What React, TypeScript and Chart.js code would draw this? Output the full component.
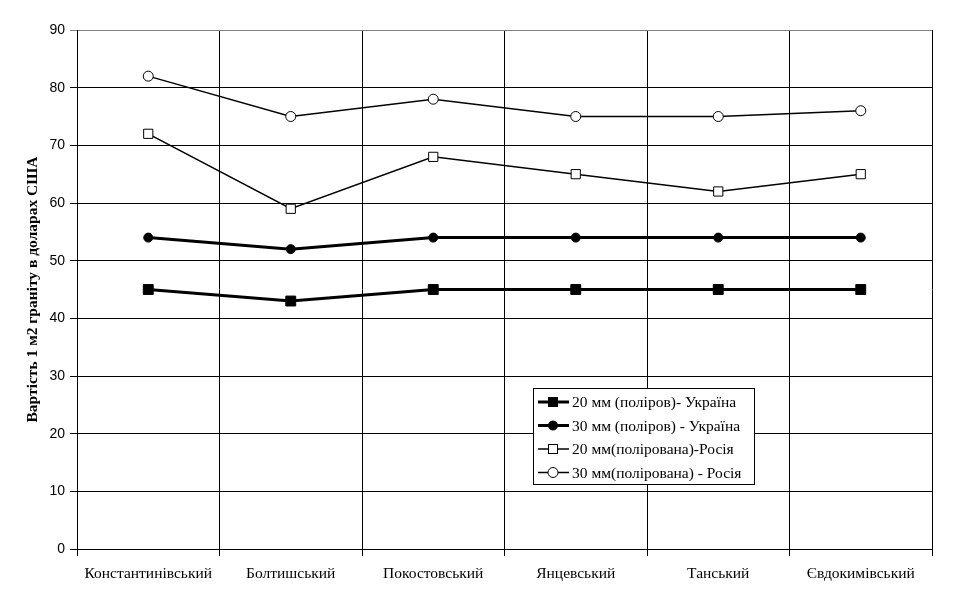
import React, { useEffect, useRef } from "react";
import { Chart, registerables } from "chart.js";

Chart.register(...registerables);

const categories = ["Константинівський", "Болтишський", "Покостовський", "Янцевський", "Танський", "Євдокимівський"];
const ukr20 = [45, 43, 45, 45, 45, 45];
const ukr30 = [54, 52, 54, 54, 54, 54];
const rus20 = [72, 59, 68, 65, 62, 65];
const rus30 = [82, 75, 78, 75, 75, 76];
const seriesNames = [
  "20 мм (поліров)- Україна",
  "30 мм (поліров) - Україна",
  "20 мм(полірована)-Росія",
  "30 мм(полірована) - Росія",
];
const yTitle = "Вартість 1 м2 граніту в доларах США";

const serif = "'Liberation Serif', 'Times New Roman', serif";
const sans = "'Liberation Sans', Arial, sans-serif";

const legendPlugin = {
  id: "boxLegend",
  afterDraw(chart: any) {
    const ctx = chart.ctx;
    const x0 = 533, y0 = 388, w = 221, h = 96;
    ctx.save();
    ctx.fillStyle = "#fff";
    ctx.fillRect(x0, y0, w, h);
    ctx.strokeStyle = "#000";
    ctx.lineWidth = 1;
    ctx.strokeRect(x0 + 0.5, y0 + 0.5, w, h);
    ctx.font = "15.5px " + serif;
    ctx.textBaseline = "middle";
    ctx.textAlign = "left";
    chart.data.datasets.forEach((ds: any, i: number) => {
      const y = y0 + 14 + i * 23.5;
      ctx.strokeStyle = "#000";
      ctx.lineWidth = ds.borderWidth;
      ctx.beginPath();
      ctx.moveTo(x0 + 5, y);
      ctx.lineTo(x0 + 36, y);
      ctx.stroke();
      ctx.lineWidth = 1;
      ctx.fillStyle = ds.pointBackgroundColor;
      ctx.strokeStyle = "#000";
      const cx = x0 + 20;
      if (ds.pointStyle === "rect") {
        const s = ds.legendSize;
        ctx.fillRect(cx - s / 2, y - s / 2, s, s);
        ctx.strokeRect(cx - s / 2 + 0.5, y - s / 2 + 0.5, s - 1, s - 1);
      } else {
        ctx.beginPath();
        ctx.arc(cx, y, ds.pointRadius, 0, Math.PI * 2);
        ctx.fill();
        ctx.stroke();
      }
      ctx.fillStyle = "#000";
      ctx.fillText(ds.label, x0 + 39, y + 1);
    });
    ctx.restore();
  },
};

export default function App() {
  const ref = useRef<HTMLCanvasElement>(null);
  useEffect(() => {
    document.body.style.margin = "0";
    const chart = new Chart(ref.current!, {
      type: "line",
      data: {
        labels: categories,
        datasets: [
          { label: seriesNames[0], data: ukr20, borderColor: "#000", borderWidth: 3, pointStyle: "rect", pointRadius: 7, pointBorderWidth: 1, pointBackgroundColor: "#000", pointBorderColor: "#000", legendSize: 10 } as any,
          { label: seriesNames[1], data: ukr30, borderColor: "#000", borderWidth: 3, pointStyle: "circle", pointRadius: 4.5, pointBorderWidth: 1, pointBackgroundColor: "#000", pointBorderColor: "#000" } as any,
          { label: seriesNames[2], data: rus20, borderColor: "#000", borderWidth: 1.5, pointStyle: "rect", pointRadius: 6.5, pointBorderWidth: 1, pointBackgroundColor: "#fff", pointBorderColor: "#000", legendSize: 10 } as any,
          { label: seriesNames[3], data: rus30, borderColor: "#000", borderWidth: 1.5, pointStyle: "circle", pointRadius: 5, pointBorderWidth: 1, pointBackgroundColor: "#fff", pointBorderColor: "#000" } as any,
        ],
      },
      options: {
        responsive: false,
        animation: false,
        layout: { padding: { left: 24, top: 30, right: 38, bottom: 0 } },
        plugins: { legend: { display: false }, tooltip: { enabled: false } },
        scales: {
          x: {
            offset: true,
            grid: {
              offset: true,
              color: (c: any) => (c.index === categories.length ? "#808080" : "#000"),
              lineWidth: 1,
              tickLength: 7,
              drawTicks: true,
            },
            border: { color: "#000", width: 1 },
            ticks: { color: "#000", font: { family: serif, size: 15.5 }, padding: 9, maxRotation: 0, autoSkip: false },
            afterFit: (s: any) => { s.height = 55; },
          },
          y: {
            min: 0,
            max: 90,
            ticks: { stepSize: 10, color: "#000", font: { family: sans, size: 14 }, padding: 5 },
            grid: {
              color: (c: any) => (c.tick && c.tick.value === 90 ? "#808080" : "#000"),
              lineWidth: 1,
              tickLength: 7,
            },
            border: { color: "#000", width: 1 },
            title: { display: true, text: yTitle, color: "#000", font: { family: serif, size: 15.5, weight: "bold" }, padding: 0 },
            afterFit: (s: any) => { s.width = 53; },
          },
        },
      },
      plugins: [legendPlugin],
    });
    return () => chart.destroy();
  }, []);
  return <canvas ref={ref} width={970} height={604} style={{ display: "block" }} />;
}
